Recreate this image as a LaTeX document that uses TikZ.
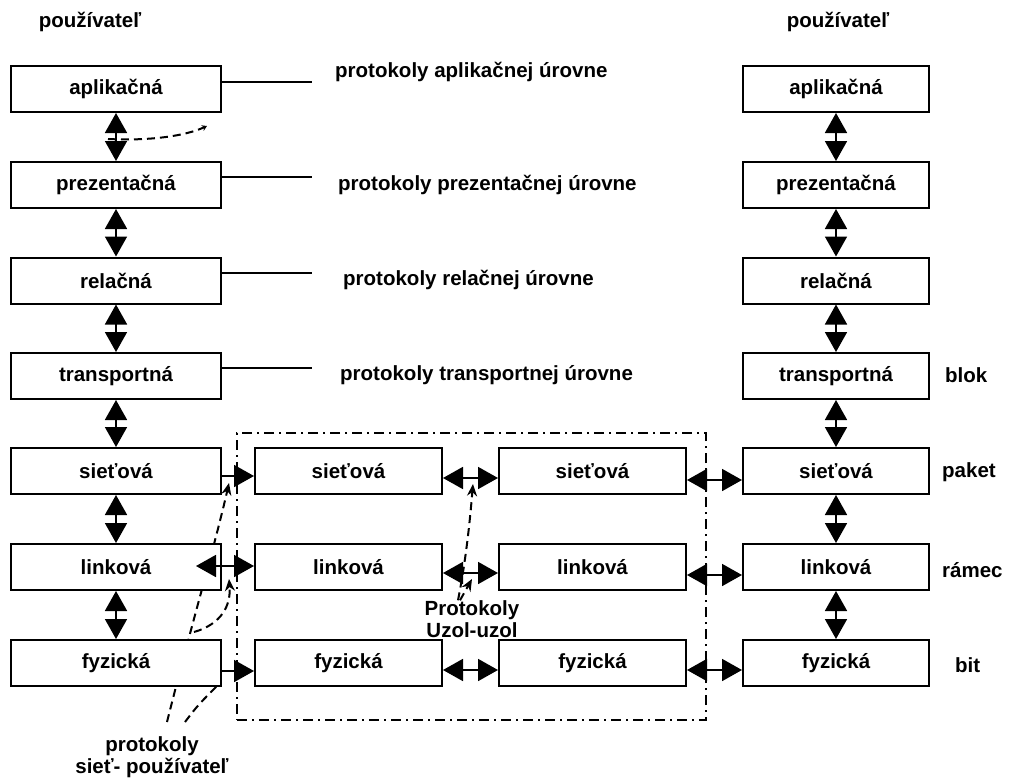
\documentclass[tikz,border=0pt]{standalone}
\usepackage{fontspec}
\setmainfont{Liberation Sans}
\usetikzlibrary{arrows.meta,calc}
\begin{document}
\begin{tikzpicture}[x=1pt,y=-1pt,
  every node/.style={font=\fontsize{20.5}{22}\selectfont\bfseries, inner sep=0pt},
  layer/.style={draw, line width=2pt, fill=white, minimum height=46pt},
  lbox/.style={layer, minimum width=210pt},
  rbox/.style={layer, minimum width=186pt},
  mbox/.style={layer, minimum width=187pt},
  big/.tip={Triangle[length=20pt,width=22pt]},
  onearrow/.style={line width=1.8pt, -big},
  twoarrow/.style={line width=1.8pt, big-big},
  note/.style={line width=2pt, dash pattern=on 8pt off 5pt},
  notetip/.style={note, -{Stealth[length=12pt,width=10pt]}},
  frame/.style={draw, line width=1.8pt, dash pattern=on 10pt off 5pt on 2pt off 5pt,
    minimum width=469pt, minimum height=287pt},
  stub/.style={line width=1.8pt}]
\useasboundingbox (0,0) rectangle (1013,782);

% dash-dot frame round the intermediate nodes
\node[frame] (frm) at (471.5,576.5) {};

% free ends of the annotation curves
\coordinate (nA0) at (167,722);
\coordinate (nB0) at (185,722);
\coordinate (nB1) at (219,684);
\coordinate (nB2) at (194,632);
\coordinate (nC0) at (108,139);
\coordinate (nC1) at (207,126);

% annotation curves passing behind the boxes
\draw[notetip] (nA0) .. controls (190,630) and (215,545) .. (229,483);
\draw[note] (nB0) .. controls (198,705) .. (nB1);
\draw[notetip] (nB2) .. controls (222,624) and (231,605) .. (229,579);

% end system on the left
\node[lbox] (la) at (116,89)    {aplikačná};
\node[lbox] (lp) at (116,185)   {prezentačná};
\node[lbox] (lr) at (116,280.5) {relačná};
\node[lbox] (lt) at (116,376)   {transportná};
\node[lbox] (ls) at (116,471)   {sieťová};
\node[lbox] (ll) at (116,567)   {linková};
\node[lbox] (lf) at (116,663)   {fyzická};

% intermediate nodes
\node[mbox] (m1s) at (348.5,471) {sieťová};
\node[mbox] (m1l) at (348.5,567) {linková};
\node[mbox] (m1f) at (348.5,663) {fyzická};
\node[mbox] (m2s) at (592.5,471) {sieťová};
\node[mbox] (m2l) at (592.5,567) {linková};
\node[mbox] (m2f) at (592.5,663) {fyzická};

% end system on the right
\node[rbox] (ra) at (836,89)    {aplikačná};
\node[rbox] (rp) at (836,185)   {prezentačná};
\node[rbox] (rr) at (836,280.5) {relačná};
\node[rbox] (rt) at (836,376)   {transportná};
\node[rbox] (rs) at (836,471)   {sieťová};
\node[rbox] (rl) at (836,567)   {linková};
\node[rbox] (rf) at (836,663)   {fyzická};

% user labels
\node (uL) at (90,22) {používateľ};
\node (uR) at (838,22) {používateľ};

% peer protocol labels
\node[anchor=west] (pa) at (335,72)  {protokoly aplikačnej úrovne};
\node[anchor=west] (pp) at (338,185) {protokoly prezentačnej úrovne};
\node[anchor=west] (pr) at (343,280) {protokoly relačnej úrovne};
\node[anchor=west] (pt) at (340,375) {protokoly transportnej úrovne};
\draw[stub] ([yshift=7pt]la.east) -- +(90,0);
\draw[stub] ([yshift=8pt]lp.east) -- +(90,0);
\draw[stub] ([yshift=7.5pt]lr.east) -- +(90,0);
\draw[stub] ([yshift=8pt]lt.east) -- +(90,0);

% data units
\node[anchor=west] (ublk) at (945,375) {blok};
\node[anchor=west] (upkt) at (942,472) {paket};
\node[anchor=west] (uram) at (942,570) {rámec};
\node[anchor=west] (ubit) at (955,665) {bit};

% vertical interfaces
\foreach \a/\b in {la/lp,lp/lr,lr/lt,lt/ls,ls/ll,ll/lf,ra/rp,rp/rr,rr/rt,rt/rs,rs/rl,rl/rf}
  \draw[twoarrow] (\a.south) -- (\b.north);

% horizontal links
\draw[onearrow] ([yshift=-5pt]ls.east) -- ([yshift=-5pt]m1s.west);
\draw[twoarrow] ([xshift=-26pt,yshift=1pt]ll.east) -- ([yshift=1pt]m1l.west);
\draw[onearrow] ([yshift=-8pt]lf.east) -- ([yshift=-8pt]m1f.west);
\draw[twoarrow] ([yshift=-7pt]m1s.east) -- ([yshift=-7pt]m2s.west);
\draw[twoarrow] ([yshift=-6pt]m1l.east) -- ([yshift=-6pt]m2l.west);
\draw[twoarrow] ([yshift=-7pt]m1f.east) -- ([yshift=-7pt]m2f.west);
\draw[twoarrow] ([yshift=-9pt]m2s.east) -- ([yshift=-9pt]rs.west);
\draw[twoarrow] ([yshift=-8pt]m2l.east) -- ([yshift=-8pt]rl.west);
\draw[twoarrow] ([yshift=-7pt]m2f.east) -- ([yshift=-7pt]rf.west);

% node-to-node protocol label and its pointers
\node[align=center] (uzol) at (472,619) {Protokoly\\Uzol-uzol};
\draw[notetip] ([xshift=-14pt]uzol.north) .. controls (466,560) and (470,520) .. (473,484);
\draw[notetip] ([xshift=-12pt]uzol.north) -- (472,579);

% network-user protocol label
\node[align=center] (nup) at (152,757) {protokoly\\sieť- používateľ};

% application-level pointer
\draw[note, -{Stealth[length=5pt,width=6pt]}] (nC0) .. controls (150,141) and (185,136) .. (nC1);
\end{tikzpicture}
\end{document}
